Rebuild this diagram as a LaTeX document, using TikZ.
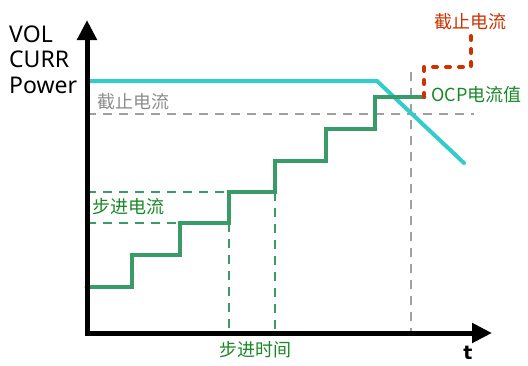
\documentclass[tikz,border=0pt]{standalone}
\usepackage{fontspec}
\usepackage{tikz}
\usepackage{xcolor}
\usetikzlibrary{arrows.meta, positioning}
\setmainfont{Noto Sans}
\newfontfamily\cjk{Noto Sans CJK SC}
\newfontfamily\tfont{DejaVu Sans}

\definecolor{powercyan}{RGB}{51,204,204}
\definecolor{stepgreen}{RGB}{56,155,104}
\definecolor{textgreen}{RGB}{24,136,36}
\definecolor{cutred}{RGB}{204,51,0}
\definecolor{guidegray}{RGB}{160,160,160}
\definecolor{labelgray}{RGB}{140,140,140}

\begin{document}
\begin{tikzpicture}[x=1pt, y=-1pt]

    % Define style for different elements
    \tikzstyle{axis} = [line width=5pt, black, {Triangle[length=20pt, width=19pt]}-{Triangle[length=20pt, width=19pt]}]
    \tikzstyle{axislabel} = [inner sep=0pt, font=\fontsize{23}{26}\selectfont]
    \tikzstyle{power} = [line width=4pt, powercyan, line cap=round]
    \tikzstyle{stair} = [line width=4.8pt, stepgreen, line cap=round]
    \tikzstyle{cutoff} = [line width=4pt, cutred, line cap=round, dash pattern=on 4pt off 9pt]
    \tikzstyle{grayguide} = [line width=1.4pt, guidegray, dash pattern=on 9pt off 7pt]
    \tikzstyle{greenguide} = [line width=1.4pt, stepgreen, dash pattern=on 9pt off 7pt]
    \tikzstyle{cjklabel} = [inner sep=0pt, font=\cjk\fontsize{18}{20}\selectfont]

    \useasboundingbox (0,0) rectangle (528,365);

    % Place coordinates
    \coordinate (origin) at (87,333);
    \coordinate (ytip) at (87,20);
    \coordinate (xtip) at (492,333);

    % Place nodes
    \node (vol) [axislabel, anchor=base west] at (9,42) {VOL};
    \node (curr) [axislabel, anchor=base west] at (9,67) {CURR};
    \node (pow) [axislabel, anchor=base west] at (9,93) {Power};
    \node (tlabel) [anchor=base, inner sep=0pt, font=\tfont\bfseries\fontsize{19}{21}\selectfont] at (468,359) {t};
    \node (cutgray) [cjklabel, text=labelgray] at (133,102) {截止电流};
    \node (cutred) [cjklabel, text=cutred] at (470,22) {截止电流};
    \node (ocp) [cjklabel, text=textgreen, anchor=west] at (431,95) {OCP\cjk 电流值};
    \node (stepcurr) [cjklabel, text=textgreen] at (128,207) {步进电流};
    \node (steptime) [cjklabel, text=textgreen] at (255,350) {步进时间};

    % Draw guides
    \draw [grayguide] (87,114) -- (474,114);
    \draw [grayguide] (411,72) -- (411,333);
    \draw [greenguide] (87,192) -- (229,192);
    \draw [greenguide] (87,223) -- (180,223);
    \draw [greenguide] (229,223) -- (229,333);
    \draw [greenguide] (275,192) -- (275,333);

    % Draw curves
    \draw [power] (87,81) -- (377,81) -- (464,163);
    \draw [stair] (87,287) -| (132,255) -| (180,223) -| (229,192) -| (275,161)
        -| (326,129) -| (375,97) -- (424,97);
    \draw [cutoff] (424,97) -- (424,67) -- (471,67) -- (471,35);

    % Draw axes
    \draw [axis] (ytip) -- (origin) -- (xtip);

\end{tikzpicture}
\end{document}
